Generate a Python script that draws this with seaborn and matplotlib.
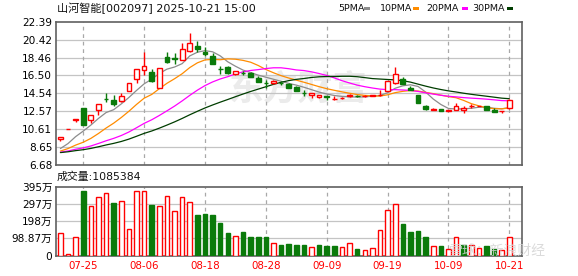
import matplotlib
matplotlib.use("Agg")
import matplotlib.pyplot as plt
from matplotlib.patches import Rectangle
import seaborn as sns
import numpy as np
import pandas as pd

# ---------------- data ----------------
dates = ["07-22", "07-23", "07-24", "07-25", "07-28", "07-29", "07-30", "07-31",
         "08-01", "08-04", "08-05", "08-06", "08-07", "08-08", "08-11", "08-12",
         "08-13", "08-14", "08-15", "08-18", "08-19", "08-20", "08-21", "08-22",
         "08-25", "08-26", "08-27", "08-28", "08-29", "09-01", "09-02", "09-03",
         "09-04", "09-05", "09-08", "09-09", "09-10", "09-11", "09-12", "09-15",
         "09-16", "09-17", "09-18", "09-19", "09-22", "09-23", "09-24", "09-25",
         "09-26", "09-29", "09-30", "10-09", "10-10", "10-13", "10-14", "10-15",
         "10-16", "10-17", "10-20", "10-21"]

opens = [9.55, 10.67, 11.58, 12.92, 11.57, 12.70, 13.92, 13.83, 13.72, 14.77,
         16.16, 17.14, 16.85, 15.07, 18.53, 18.40, 18.20, 19.18, 19.77, 19.11,
         18.67, 17.20, 17.40, 16.63, 16.80, 16.74, 16.23, 15.72, 15.65, 15.68,
         15.58, 15.28, 14.60, 14.30, 14.12, 14.20, 13.93, 13.98, 14.25, 14.28,
         14.22, 14.27, 14.30, 14.75, 15.65, 16.09, 15.14, 14.37, 13.17, 12.75,
         12.84, 12.64, 12.73, 12.73, 13.10, 13.12, 13.17, 12.73, 12.60, 12.88]
highs = [9.70, 10.67, 11.74, 12.92, 12.11, 13.35, 14.56, 14.34, 14.56, 15.70,
         17.18, 19.04, 17.18, 17.36, 19.11, 18.93, 20.02, 21.19, 20.24, 19.66,
         18.93, 17.55, 17.55, 17.00, 17.00, 16.92, 16.45, 16.00, 16.00, 15.84,
         15.70, 15.30, 14.90, 14.55, 14.32, 14.26, 14.20, 14.10, 14.48, 14.30,
         14.30, 14.35, 14.92, 15.90, 17.40, 16.38, 15.30, 14.40, 13.28, 12.90,
         12.84, 12.70, 13.46, 13.10, 13.35, 13.20, 13.20, 12.88, 12.64, 13.90]
lows = [9.35, 10.67, 11.40, 11.06, 11.24, 12.15, 13.57, 13.10, 13.57, 14.77,
        15.65, 16.56, 15.80, 15.07, 17.84, 17.73, 18.20, 19.10, 19.04, 18.64,
        17.70, 16.67, 16.67, 16.60, 16.55, 16.34, 15.76, 15.10, 15.55, 15.47,
        15.17, 14.80, 14.26, 14.08, 14.00, 13.83, 13.85, 13.90, 14.10, 14.15,
        14.18, 14.22, 14.28, 14.74, 15.60, 15.55, 14.85, 13.46, 12.66, 12.75,
        12.59, 12.62, 12.70, 12.37, 12.92, 13.10, 12.70, 12.50, 12.37, 12.85]
closes = [9.70, 10.67, 11.74, 11.06, 12.11, 13.35, 13.88, 13.32, 14.23, 15.65,
          17.18, 17.51, 15.87, 17.36, 18.02, 18.35, 19.37, 20.09, 19.40, 18.86,
          17.73, 17.15, 16.81, 16.99, 16.75, 16.34, 15.76, 15.68, 15.87, 15.65,
          15.17, 14.81, 14.52, 14.55, 14.30, 14.15, 13.97, 14.02, 14.32, 14.20,
          14.25, 14.30, 14.36, 15.90, 16.67, 15.58, 14.85, 13.46, 12.81, 12.85,
          12.59, 12.67, 13.17, 12.92, 13.15, 13.16, 12.73, 12.52, 12.64, 13.83]
# closes before the visible window (only feed the moving averages)
pre_closes = [7.98, 8.02, 7.95, 7.90, 7.93, 8.00, 8.05, 7.97, 7.92, 7.88,
              7.95, 8.01, 7.99, 7.94, 7.90, 7.96, 8.03, 7.98, 7.93, 7.89,
              7.91, 7.95, 7.92, 7.90, 7.96, 7.93, 7.95, 8.02, 8.82]

volumes = [131, 10, 108, 370, 282, 334, 357, 301, 316, 154,
           368, 368, 289, 282, 340, 258, 334, 305, 230, 237,
           230, 189, 127, 114, 133, 104, 104, 104, 73, 58,
           67, 58, 58, 50, 58, 52, 52, 50, 73, 39,
           33, 44, 149, 264, 297, 179, 137, 143, 104, 56,
           52, 39, 108, 58, 62, 44, 52, 40, 33, 108.5]   # 万
vol_dir = ["up", "up", "up", "dn", "up", "up", "up", "dn", "up", "up",
           "up", "up", "dn", "up", "up", "up", "up", "up", "dn", "dn",
           "dn", "dn", "dn", "up", "dn", "dn", "dn", "dn", "up", "dn",
           "dn", "dn", "dn", "up", "dn", "dn", "dn", "up", "up", "dn",
           "up", "up", "up", "up", "up", "dn", "dn", "dn", "dn", "up",
           "dn", "up", "up", "dn", "up", "up", "dn", "dn", "up", "up"]

ma_periods = [5, 10, 20, 30]
ma_labels = ["5PMA", "10PMA", "20PMA", "30PMA"]
ma_colors = ["#8c8c8c", "#ff8c00", "#ff00ff", "#003d00"]

price_ticks = [6.68, 8.65, 10.61, 12.57, 14.54, 16.50, 18.46, 20.42, 22.39]
price_tick_labels = ["6.68", "8.65", "10.61", "12.57", "14.54", "16.50", "18.46", "20.42", "22.39"]
vol_ticks = [0, 98.87, 197.7, 296.6, 395.5]
vol_tick_labels = ["0", "98.87万", "198万", "297万", "395万"]
date_tick_labels = ["07-25", "08-06", "08-18", "08-28", "09-09", "09-19", "10-09", "10-21"]

title_text = "山河智能[002097] 2025-10-21 15:00"
vol_title = "成交量:1085384"

# ---------------- style ----------------
sns.set_style("white")
plt.rcParams["font.family"] = ["DejaVu Sans", "Noto Sans CJK SC"]
plt.rcParams["axes.unicode_minus"] = False

RED = "#ff0000"
GREEN = "#0a7a0a"
FRAME = "#606060"
HGRID = "#c4c4c4"
VGRID = "#a8a8a8"

W, H = 578, 276
fig = plt.figure(figsize=(W / 100, H / 100), dpi=100)
fig.patch.set_facecolor("white")


def fx(px):
    return px / W


def fy(py):
    return 1 - py / H


L, R = 55.7, 522.0
axp = fig.add_axes([fx(L), fy(165.0), fx(R - L), (165.0 - 21.7) / H])
axv = fig.add_axes([fx(L), fy(255.5), fx(R - L), (255.5 - 186.7) / H])

n = len(dates)
xs = np.arange(n)
xlim = (-0.62, 60.66)
tick_pos = [dates.index(d) for d in date_tick_labels]

o = np.array(opens); h = np.array(highs); lo = np.array(lows); c = np.array(closes)

# moving averages
full = pd.Series(pre_closes + closes)
ma_df = pd.DataFrame({"x": np.tile(xs, len(ma_periods)),
                      "val": np.concatenate([full.rolling(p).mean().to_numpy()[-n:] for p in ma_periods]),
                      "ma": np.repeat(ma_labels, n)})

for ax in (axp, axv):
    ax.set_facecolor("white")
    ax.set_xlim(*xlim)
    for s in ax.spines.values():
        s.set_color(FRAME)
        s.set_linewidth(1.2)
    for t in tick_pos:
        ax.axvline(t, color=VGRID, lw=0.9, ls=(0, (3, 3)), zorder=0.5)
    ax.tick_params(length=0, labelsize=7.6, colors="black", pad=2.5)

# watermark
axp.text(0.52, 0.53, "东方财富", transform=axp.transAxes, fontsize=25, color="#ebebeb",
         fontweight="bold", style="italic", ha="center", va="center",
         family=["Noto Sans CJK SC"], zorder=0.3)

# price panel
axp.set_ylim(price_ticks[0], price_ticks[-1])
axp.set_yticks(price_ticks)
axp.set_yticklabels(price_tick_labels)
for t in price_ticks[1:-1]:
    axp.axhline(t, color=HGRID, lw=0.9, zorder=0.4)
axp.set_xticks([])

sns.lineplot(data=ma_df, x="x", y="val", hue="ma", palette=dict(zip(ma_labels, ma_colors)),
             ax=axp, legend=False, linewidth=0.9, zorder=2)
axp.set_xlabel("")
axp.set_ylabel("")

bw = 0.62
for i in range(n):
    rising = c[i] >= o[i]
    col = RED if rising else GREEN
    bot, top = min(o[i], c[i]), max(o[i], c[i])
    if rising:
        axp.vlines(xs[i], lo[i], bot, color=col, lw=1, zorder=3)
        axp.vlines(xs[i], top, h[i], color=col, lw=1, zorder=3)
        axp.bar(xs[i], max(top - bot, 0.005), bottom=bot, width=bw, facecolor="white",
                edgecolor=col, linewidth=1, zorder=4)
    else:
        axp.vlines(xs[i], lo[i], h[i], color=col, lw=1, zorder=3)
        axp.bar(xs[i], max(top - bot, 0.005), bottom=bot, width=bw, facecolor=col,
                edgecolor=col, linewidth=1, zorder=4)

# volume panel
axv.set_ylim(vol_ticks[0], vol_ticks[-1])
axv.set_yticks(vol_ticks)
axv.set_yticklabels(vol_tick_labels)
for t in vol_ticks[1:-1]:
    axv.axhline(t, color=HGRID, lw=0.9, zorder=0.4)
vol_cols = [RED if d == "up" else GREEN for d in vol_dir]
vol_face = ["white" if d == "up" else GREEN for d in vol_dir]
axv.bar(xs, volumes, width=0.6, facecolor=vol_face, edgecolor=vol_cols, linewidth=1, zorder=3)
axv.set_xticks(tick_pos)
axv.set_xticklabels(date_tick_labels)
axv.tick_params(axis="x", colors=RED, labelsize=7.4, pad=4)
axv.tick_params(axis="y", colors="black")
for lab in axv.get_yticklabels():
    lab.set_family(["DejaVu Sans", "Noto Sans CJK SC"])

# texts
fig.text(fx(57), fy(8.5), title_text, fontsize=8, ha="left", va="center",
         family=["DejaVu Sans", "Noto Sans CJK SC"], color="#111111")
fig.text(fx(57), fy(176.5), vol_title, fontsize=7.8, ha="left", va="center",
         family=["DejaVu Sans", "Noto Sans CJK SC"], color="#111111")

leg_x = [338, 380, 426, 472]
dash_x = [364, 413, 462, 507]
for lbl, col, tx, dx in zip(ma_labels, ma_colors, leg_x, dash_x):
    fig.text(fx(tx), fy(8.5), lbl, fontsize=6.8, ha="left", va="center", color="#111111")
    fig.add_artist(Rectangle((fx(dx), fy(10)), fx(6), 3 / H, transform=fig.transFigure,
                             facecolor=col, edgecolor="none"))

fig.text(fx(498), fy(251), "雪球：新浪财经", fontsize=10, ha="center", va="center",
         family=["Noto Sans CJK SC"], color="#d4d4d4", alpha=0.85, zorder=10)

fig.savefig("out.png", dpi=100, facecolor="white")
